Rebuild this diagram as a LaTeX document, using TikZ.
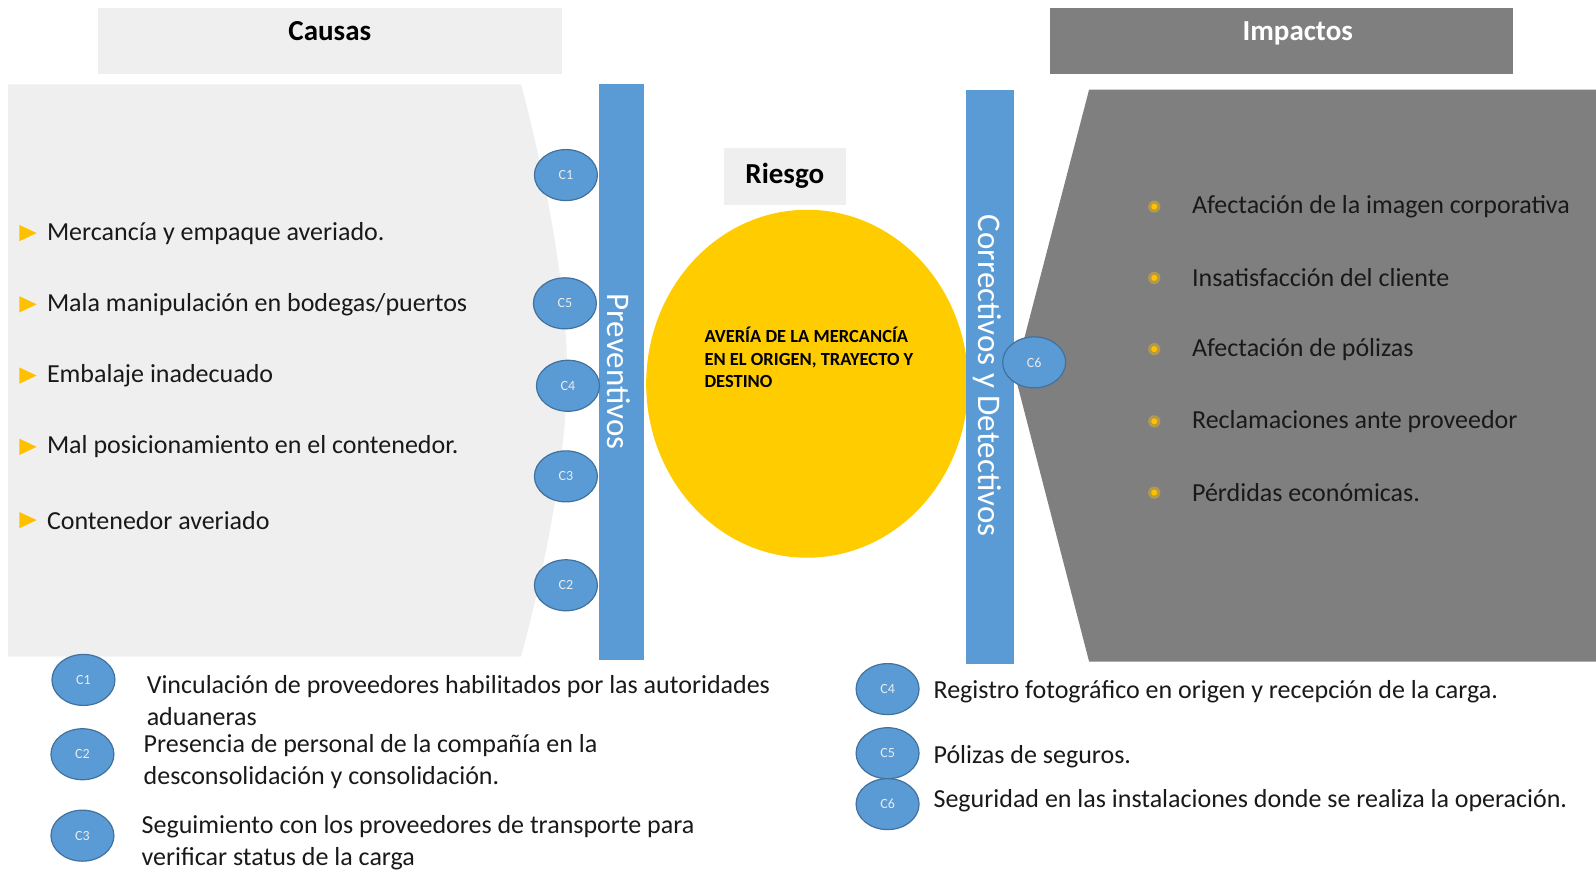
\documentclass[tikz,border=0pt]{standalone}
\usepackage{fontspec}
\setmainfont{Carlito}
\usetikzlibrary{shapes.geometric}
\definecolor{causagris}{HTML}{EFEFEF}
\definecolor{impactogris}{HTML}{7F7F7F}
\definecolor{azulctrl}{HTML}{5B9BD5}
\definecolor{bordectrl}{HTML}{41719C}
\definecolor{amarillo}{HTML}{FFCC00}
\definecolor{vineta}{HTML}{FFC000}
\tikzset{
    ctrl/.style={ellipse,draw=bordectrl,line width=1.2pt,fill=azulctrl,inner sep=0pt,
      minimum width=63pt,minimum height=51pt,text=white!92!black,font=\fontsize{14}{14}\selectfont},
    titulo/.style={font=\fontsize{29}{29}\selectfont\bfseries},
    barra/.style={rotate=-90,text=white,font=\fontsize{33}{33}\selectfont},
    item/.style={anchor=west,inner sep=0pt,text=black!90,font=\fontsize{26}{26}\selectfont},
    leyenda/.style={anchor=west,inner sep=0pt,align=left,text=black!90,font=\fontsize{26}{32}\selectfont},
  }
\begin{document}
\begin{tikzpicture}[x=1.018pt,y=-1.018pt]
				  \useasboundingbox (0,0) rectangle (1568,857);
				  %cabeceras
				  \fill[causagris] (96,8) rectangle (552,73);
				  \node[titulo,anchor=base] (causas) at (324,40) {Causas};
				  \fill[impactogris] (1032,8) rectangle (1486,73);
				  \node[titulo,anchor=base,text=white] (impactos) at (1275,40) {Impactos};

				  %zonas
				  \fill[causagris] (8,83) -- (512,83) .. controls (540,190) and (557,290) .. (557,365)
				        .. controls (557,440) and (540,540) .. (512,645) -- (8,645) -- cycle;
				  \fill[impactogris] (1070,88) -- (1568,88) -- (1568,650) -- (1070,650) -- (997,368) -- cycle;

				  %riesgo
				  \node[ellipse,fill=amarillo,minimum width=322pt,minimum height=348pt] (R) at (793,377) {};
				  \node[anchor=north west,align=left,inner sep=0pt,font=\fontsize{18.5}{22.6}\selectfont\bfseries]
				        (averia) at (692,321) {AVERÍA DE LA MERCANCÍA\\EN EL ORIGEN, TRAYECTO Y\\DESTINO};
				  \node[fill=causagris,minimum width=122pt,minimum height=57pt,titulo] (riesgo) at (771,173) {Riesgo};

				  %barras de controles
				  \fill[azulctrl] (588,83) rectangle (633,648);
				  \node[barra] (prev) at (608,365) {Preventivos};
				  \fill[azulctrl] (949,88) rectangle (996,652);
				  \node[barra] (corr) at (970,369) {Correctivos y Detectivos};

				  \node[ctrl] (C1) at (556,172) {C1};
				  \node[ctrl] (C5) at (555,298) {C5};
				  \node[ctrl] (C4) at (558,379) {C4};
				  \node[ctrl] (C3) at (556,468) {C3};
				  \node[ctrl] (C2) at (556,575) {C2};
				  \node[ctrl] (C6) at (1016,356) {C6};

				  %causas
				  \foreach \y/\txt [count=\i] in {229/{Mercancía y empaque averiado.},299/{Mala manipulación en bodegas/puertos},
				        369/{Embalaje inadecuado},439/{Mal posicionamiento en el contenedor.},511/{Contenedor averiado}}{
				    \fill[vineta] (19,\y-8) -- (36,\y) -- (19,\y+8) -- cycle;
				    \node[item] (causa\i) at (46,\y) {\txt};
				  }

				  %impactos
				  \foreach \y/\txt [count=\i] in {203/{Afectación de la imagen corporativa},273/{Insatisfacción del cliente},
				        343/{Afectación de pólizas},414/{Reclamaciones ante proveedor},484/{Pérdidas económicas.}}{
				    \fill[vineta!40!impactogris] (1134,\y) circle (6);
				    \fill[vineta] (1134,\y) circle (3);
				    \node[item] (impacto\i) at (1171,\y) {\txt};
				  }

				  %leyenda
				  \node[ctrl] (L1) at (82,668) {C1};
				  \node[leyenda] (T1) at (144,688) {Vinculación de proveedores habilitados por las autoridades\\aduaneras};
				  \node[ctrl] (L2) at (81,741) {C2};
				  \node[leyenda] (T2) at (141,748) {Presencia de personal de la compañía en la\\desconsolidación y consolidación.};
				  \node[ctrl] (L3) at (81,821) {C3};
				  \node[leyenda] (T3) at (139,828) {Seguimiento con los proveedores de transporte para\\verificar status de la carga};
				  \node[ctrl] (L4) at (872,677) {C4};
				  \node[leyenda] (T4) at (917,680) {Registro fotográfico en origen y recepción de la carga.};
				  \node[ctrl] (L5) at (872,740) {C5};
				  \node[leyenda] (T5) at (917,743) {Pólizas de seguros.};
				  \node[ctrl] (L6) at (872,790) {C6};
				  \node[leyenda] (T6) at (917,787) {Seguridad en las instalaciones donde se realiza la operación.};
\end{tikzpicture}
\end{document}
